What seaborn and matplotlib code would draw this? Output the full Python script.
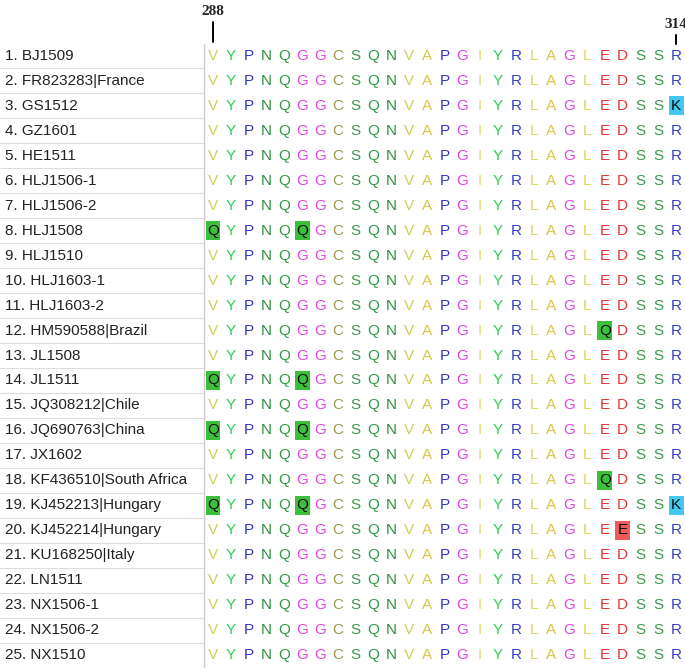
import numpy as np
import pandas as pd
import matplotlib.pyplot as plt
import seaborn as sns
from matplotlib.colors import ListedColormap
from matplotlib.patches import Rectangle


# dados do alinhamento (posicoes 288-314)

names = ['BJ1509', 'FR823283|France', 'GS1512', 'GZ1601', 'HE1511',
         'HLJ1506-1', 'HLJ1506-2', 'HLJ1508', 'HLJ1510', 'HLJ1603-1',
         'HLJ1603-2', 'HM590588|Brazil', 'JL1508', 'JL1511', 'JQ308212|Chile',
         'JQ690763|China', 'JX1602', 'KF436510|South Africa', 'KJ452213|Hungary',
         'KJ452214|Hungary', 'KU168250|Italy', 'LN1511', 'NX1506-1', 'NX1506-2',
         'NX1510']

sequences = [
    'VYPNQGGCSQNVAPGIYRLAGLEDSSR',
    'VYPNQGGCSQNVAPGIYRLAGLEDSSR',
    'VYPNQGGCSQNVAPGIYRLAGLEDSSK',
    'VYPNQGGCSQNVAPGIYRLAGLEDSSR',
    'VYPNQGGCSQNVAPGIYRLAGLEDSSR',
    'VYPNQGGCSQNVAPGIYRLAGLEDSSR',
    'VYPNQGGCSQNVAPGIYRLAGLEDSSR',
    'QYPNQQGCSQNVAPGIYRLAGLEDSSR',
    'VYPNQGGCSQNVAPGIYRLAGLEDSSR',
    'VYPNQGGCSQNVAPGIYRLAGLEDSSR',
    'VYPNQGGCSQNVAPGIYRLAGLEDSSR',
    'VYPNQGGCSQNVAPGIYRLAGLQDSSR',
    'VYPNQGGCSQNVAPGIYRLAGLEDSSR',
    'QYPNQQGCSQNVAPGIYRLAGLEDSSR',
    'VYPNQGGCSQNVAPGIYRLAGLEDSSR',
    'QYPNQQGCSQNVAPGIYRLAGLEDSSR',
    'VYPNQGGCSQNVAPGIYRLAGLEDSSR',
    'VYPNQGGCSQNVAPGIYRLAGLQDSSR',
    'QYPNQQGCSQNVAPGIYRLAGLEDSSK',
    'VYPNQGGCSQNVAPGIYRLAGLEESSR',
    'VYPNQGGCSQNVAPGIYRLAGLEDSSR',
    'VYPNQGGCSQNVAPGIYRLAGLEDSSR',
    'VYPNQGGCSQNVAPGIYRLAGLEDSSR',
    'VYPNQGGCSQNVAPGIYRLAGLEDSSR',
    'VYPNQGGCSQNVAPGIYRLAGLEDSSR',
]

positions = list(range(288, 315))
marked_positions = [288, 314]

# cores dos residuos
res_colors = {
    'V': '#cfcf5a', 'Y': '#33cc55', 'P': '#3434c4', 'N': '#2f8f3f',
    'Q': '#2f9a45', 'G': '#e444e4', 'C': '#9c9850', 'S': '#3c9a4c',
    'A': '#d6c845', 'I': '#dede70', 'R': '#3440c4', 'L': '#dcd460',
    'E': '#e03434', 'D': '#e03434', 'K': '#3434c4',
}
# cores das substituicoes destacadas
hl_colors = {'Q': '#3cc03c', 'K': '#44c8f0', 'E': '#f05a5a'}

SANS = ['Liberation Sans', 'DejaVu Sans']
SERIF = ['Liberation Serif', 'DejaVu Serif']

sns.set_theme(style='white')
plt.rcParams['font.family'] = SANS

W, H = 685, 670
top_px, row_px = 43.5, 24.96
left_px, col_px = 204.1, 17.81
n_rows, n_cols = len(names), len(positions)
bottom_px = top_px + n_rows * row_px

fig = plt.figure(figsize=(W / 100, H / 100), dpi=100)
ax = fig.add_axes([left_px / W, 1 - bottom_px / H, n_cols * col_px / W, n_rows * row_px / H])
ax_lab = fig.add_axes([0, 1 - bottom_px / H, 206 / W, n_rows * row_px / H])

letters = np.array([list(s) for s in sequences])
changed = (letters != letters[0]).astype(int)
labels = [f'{i + 1}. {n}' for i, n in enumerate(names)]
df = pd.DataFrame(changed, index=labels, columns=positions)

sns.heatmap(df, ax=ax, cmap=ListedColormap(['white']), vmin=0, vmax=1,
            cbar=False, annot=letters, fmt='',
            annot_kws={'fontsize': 11, 'family': SANS},
            xticklabels=False, yticklabels=False)

# colorir letras e destacar substituicoes
for t in ax.texts:
    x, y = t.get_position()
    j, i = int(x), int(y)
    res = letters[i, j]
    if changed[i, j]:
        ax.add_patch(Rectangle((j + 0.08, i + 0.12), 0.84, 0.76,
                               color=hl_colors[res], zorder=2, lw=0))
        t.set_color('#111111')
    else:
        t.set_color(res_colors[res])
    t.set_zorder(3)

# marcadores de posicao
for p in marked_positions:
    j = positions.index(p) + 0.5
    if p == positions[0]:
        ty, y0, y1 = -1.28, -0.86, -0.06
    else:
        ty, y0, y1 = -0.76, -0.34, 0.04
    ax.plot([j, j], [y0, y1], color='black', lw=1.4, clip_on=False)
    ax.text(j, ty, str(p), ha='center', va='center', fontsize=11,
            fontweight='bold', family=SERIF)

# nomes das amostras
ax_lab.set_xlim(0, 1)
ax_lab.set_ylim(n_rows, 0)
for i, lab in enumerate(labels):
    ax_lab.text(5 / 206, i + 0.5, lab, va='center', ha='left', fontsize=11,
                color='#222222', family=SANS)
for i in range(1, n_rows + 1):
    ax_lab.axhline(i, xmax=0.985, color='#dddddd', lw=0.8)
ax_lab.axvline(0.99, color='#cccccc', lw=1)
ax_lab.axis('off')

fig.savefig('out.png', dpi=100)
